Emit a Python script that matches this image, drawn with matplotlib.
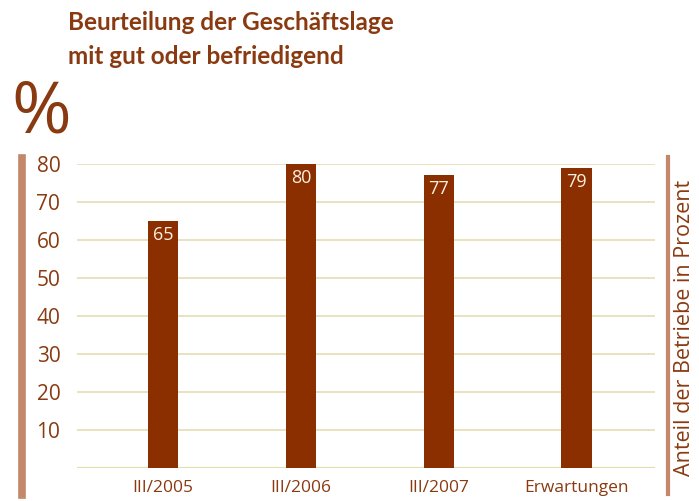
import matplotlib.pyplot as plt
from matplotlib.lines import Line2D

# data
categories = ['III/2005', 'III/2006', 'III/2007', 'Erwartungen']
values = [65, 80, 77, 79]
yticks = [10, 20, 30, 40, 50, 60, 70, 80]

brown = '#8B2F00'
text_brown = '#8A3A10'
grid_col = '#E4DDB4'
side_col = '#C4876A'

plt.rcParams['font.family'] = ['Open Sans', 'DejaVu Sans']

fig = plt.figure(figsize=(6.99, 5.01), dpi=100)
W, H = 699, 501
ax = fig.add_axes([77 / W, 1 - 468 / H, (655 - 77) / W, (468 - 164) / H])

x = range(len(categories))
bars = ax.bar(x, values, width=0.22, color=brown, zorder=3, clip_on=False)
for b, v in zip(bars, values):
    ax.text(b.get_x() + b.get_width() / 2, v - 1.3, str(v), ha='center', va='top',
            color='#FBEFE0', fontsize=13, zorder=4)

ax.set_xlim(-0.625, 3.57)
ax.set_ylim(0, 80)
for t in [0] + yticks:
    ax.axhline(t, color=grid_col, lw=1.6 if t == 0 else 1.2, zorder=1)

ax.set_yticks(yticks)
ax.set_yticklabels([str(t) for t in yticks], color=text_brown, fontsize=15)
ax.tick_params(axis='y', length=0, pad=12)
ax.set_xticks(list(x))
ax.set_xticklabels(categories, color=text_brown, fontsize=12.5)
ax.tick_params(axis='x', length=0, pad=9)
for s in ax.spines.values():
    s.set_visible(False)

# side bars
fig.add_artist(Line2D([21.5 / W, 21.5 / W], [1 - 158 / H, 1 - 495 / H], color=side_col, lw=5.5))
fig.add_artist(Line2D([668 / W, 668 / W], [1 - 157 / H, 1 - 494 / H], color=side_col, lw=3))

fig.text(68 / W, 1 - 23 / H, 'Beurteilung der Geschäftslage', color=text_brown,
         fontsize=17.5, fontweight='bold', va='center', family=['Lato', 'DejaVu Sans'])
fig.text(68 / W, 1 - 57 / H, 'mit gut oder befriedigend', color=text_brown,
         fontsize=17.5, fontweight='bold', va='center', family=['Lato', 'DejaVu Sans'])
fig.text(11 / W, 1 - 114 / H, '%', color=text_brown, fontsize=52, va='center')
fig.text(685 / W, 1 - 328 / H, 'Anteil der Betriebe in Prozent', color=text_brown,
         fontsize=15.5, rotation=90, ha='center', va='center')

fig.savefig('out.png', dpi=100)
